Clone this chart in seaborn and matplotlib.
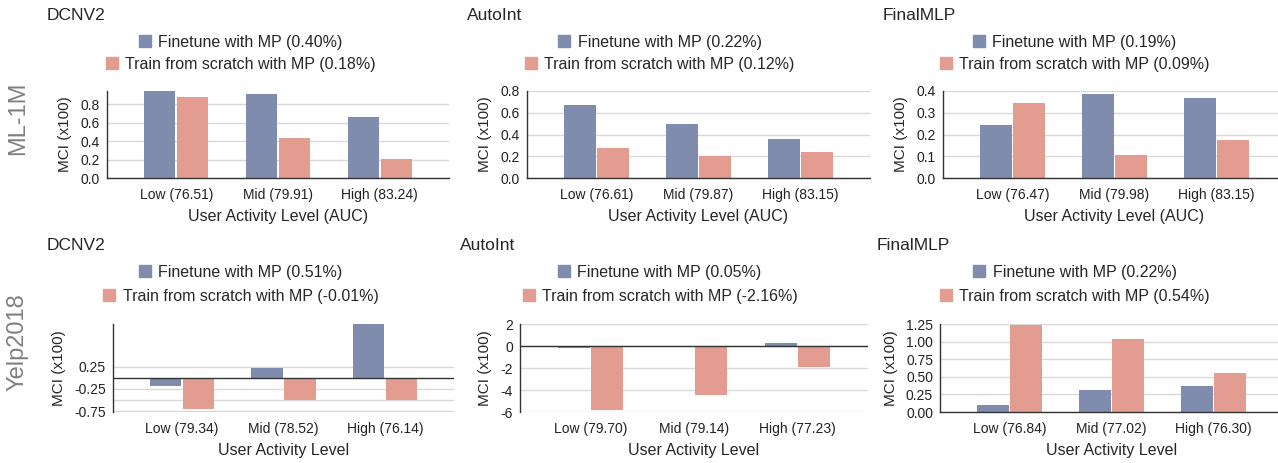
import pandas as pd
import seaborn as sns
import matplotlib.pyplot as plt
from matplotlib.patches import Patch

# colours of the two series
blue = '#7f8cae'
red = '#e39c90'

models = ['DCNV2', 'AutoInt', 'FinalMLP']
series = ['Finetune with MP', 'Train from scratch with MP']

# ML-1M row
ml_levels = [['Low (76.51)', 'Mid (79.91)', 'High (83.24)'],
             ['Low (76.61)', 'Mid (79.87)', 'High (83.15)'],
             ['Low (76.47)', 'Mid (79.98)', 'High (83.15)']]
ml_finetune = [[0.945, 0.915, 0.66], [0.67, 0.50, 0.36], [0.245, 0.385, 0.37]]
ml_scratch = [[0.88, 0.43, 0.21], [0.275, 0.20, 0.24], [0.345, 0.105, 0.175]]
ml_gain_ft = ['0.40%', '0.22%', '0.19%']
ml_gain_sc = ['0.18%', '0.12%', '0.09%']
ml_yticks = [[0, 0.2, 0.4, 0.6, 0.8], [0, 0.2, 0.4, 0.6, 0.8], [0, 0.1, 0.2, 0.3, 0.4]]
ml_yticklabels = [['0.0', '0.2', '0.4', '0.6', '0.8'], ['0.0', '0.2', '0.4', '0.6', '0.8'],
                  ['0.0', '0.1', '0.2', '0.3', '0.4']]
ml_ylim = [(0, 0.945), (0, 0.8), (0, 0.4)]

# Yelp2018 row
yelp_levels = [['Low (79.34)', 'Mid (78.52)', 'High (76.14)'],
               ['Low (79.70)', 'Mid (79.14)', 'High (77.23)'],
               ['Low (76.84)', 'Mid (77.02)', 'High (76.30)']]
yelp_finetune = [[-0.18, 0.23, 1.23], [-0.15, -0.02, 0.24], [0.105, 0.31, 0.365]]
yelp_scratch = [[-0.70, -0.51, -0.51], [-5.84, -4.47, -1.88], [1.24, 1.035, 0.555]]
yelp_gain_ft = ['0.51%', '0.05%', '0.22%']
yelp_gain_sc = ['-0.01%', '-2.16%', '0.54%']
yelp_yticks = [[-0.75, -0.5, -0.25, 0.25], [-6, -4, -2, 0, 2],
               [0, 0.25, 0.5, 0.75, 1.0, 1.25]]
yelp_yticklabels = [['-0.75', '', '-0.25', '0.25'], ['-6', '-4', '-2', '0', '2'],
                    ['0.00', '0.25', '0.50', '0.75', '1.00', '1.25']]
yelp_ylim = [(-0.77, 1.21), (-6, 2), (0, 1.25)]

sns.set_style('white')
plt.rcParams['font.family'] = ['Liberation Sans', 'DejaVu Sans']
plt.rcParams['axes.unicode_minus'] = False

W, H = 1278, 463
fig = plt.figure(figsize=(W / 100, H / 100), dpi=100)


def rect(l, r, t, b):
    return [l / W, 1 - b / H, (r - l) / W, (b - t) / H]


# axes boxes in pixels (left, right, top, bottom)
top_boxes = [(107, 449, 91, 178), (527, 870, 91, 178), (943, 1286, 91, 178)]
bot_boxes = [(113, 454, 324, 412), (520, 868, 324, 412), (940, 1283, 324, 412)]
title_x_top = [47, 467, 883]
title_x_bot = [47, 460, 877]
legend_x = [241, 660, 1075]


def draw_panel(box, levels, ft, sc, yticks, yticklabels, ylim, xlabel, zero_line):
    ax = fig.add_axes(rect(*box))
    df = pd.DataFrame({
        'level': levels * 2,
        'series': [series[0]] * 3 + [series[1]] * 3,
        'mci': ft + sc,
    })
    sns.barplot(data=df, x='level', y='mci', hue='series', order=levels,
                hue_order=series, palette=[blue, red], width=0.65, gap=0.05,
                saturation=1, linewidth=0, legend=False, ax=ax)
    ax.set_xlim(-0.68, 2.68)
    ax.set_ylim(*ylim)
    ax.set_yticks(yticks)
    ax.set_yticklabels(yticklabels)
    ax.grid(axis='y', color='#d9d9d9', linewidth=1)
    ax.set_axisbelow(True)
    ax.tick_params(axis='both', length=0, labelsize=10, colors='#222222')
    ax.tick_params(axis='x', pad=7)
    ax.tick_params(axis='y', pad=5)
    for s in ['top', 'right']:
        ax.spines[s].set_visible(False)
    ax.spines['left'].set_color('#333333')
    ax.spines['left'].set_linewidth(1)
    if zero_line:
        ax.spines['bottom'].set_visible(False)
        ax.axhline(0, color='#333333', linewidth=1)
    else:
        ax.spines['bottom'].set_color('#333333')
        ax.spines['bottom'].set_linewidth(1)
    ax.set_ylabel('MCI (x100)', fontsize=11, labelpad=6)
    ax.set_xlabel(xlabel, fontsize=11.5, labelpad=5)
    return ax


def add_legend(x, y, color, text):
    fig.legend(handles=[Patch(color=color)], labels=[text], loc='center',
               bbox_to_anchor=(x / W, 1 - y / H), frameon=False, fontsize=11.5,
               handlelength=0.75, handleheight=0.75, handletextpad=0.45,
               borderpad=0, borderaxespad=0)


for i, m in enumerate(models):
    draw_panel(top_boxes[i], ml_levels[i], ml_finetune[i], ml_scratch[i],
               ml_yticks[i], ml_yticklabels[i], ml_ylim[i],
               'User Activity Level (AUC)', False)
    fig.text(title_x_top[i] / W, 1 - 15 / H, m, fontsize=12.5, va='center', ha='left')
    add_legend(legend_x[i], 42, blue, f'{series[0]} ({ml_gain_ft[i]})')
    add_legend(legend_x[i], 64, red, f'{series[1]} ({ml_gain_sc[i]})')

    draw_panel(bot_boxes[i], yelp_levels[i], yelp_finetune[i], yelp_scratch[i],
               yelp_yticks[i], yelp_yticklabels[i], yelp_ylim[i],
               'User Activity Level', i < 2)
    fig.text(title_x_bot[i] / W, 1 - 245 / H, m, fontsize=12.5, va='center', ha='left')
    add_legend(legend_x[i], 272, blue, f'{series[0]} ({yelp_gain_ft[i]})')
    add_legend(legend_x[i], 296, red, f'{series[1]} ({yelp_gain_sc[i]})')

# dataset row labels
fig.text(18 / W, 1 - 118 / H, 'ML-1M', fontsize=17, color='#808080',
         rotation=90, ha='center', va='center')
fig.text(18 / W, 1 - 342 / H, 'Yelp2018', fontsize=17, color='#808080',
         rotation=90, ha='center', va='center')

fig.savefig('out.png', dpi=100)
